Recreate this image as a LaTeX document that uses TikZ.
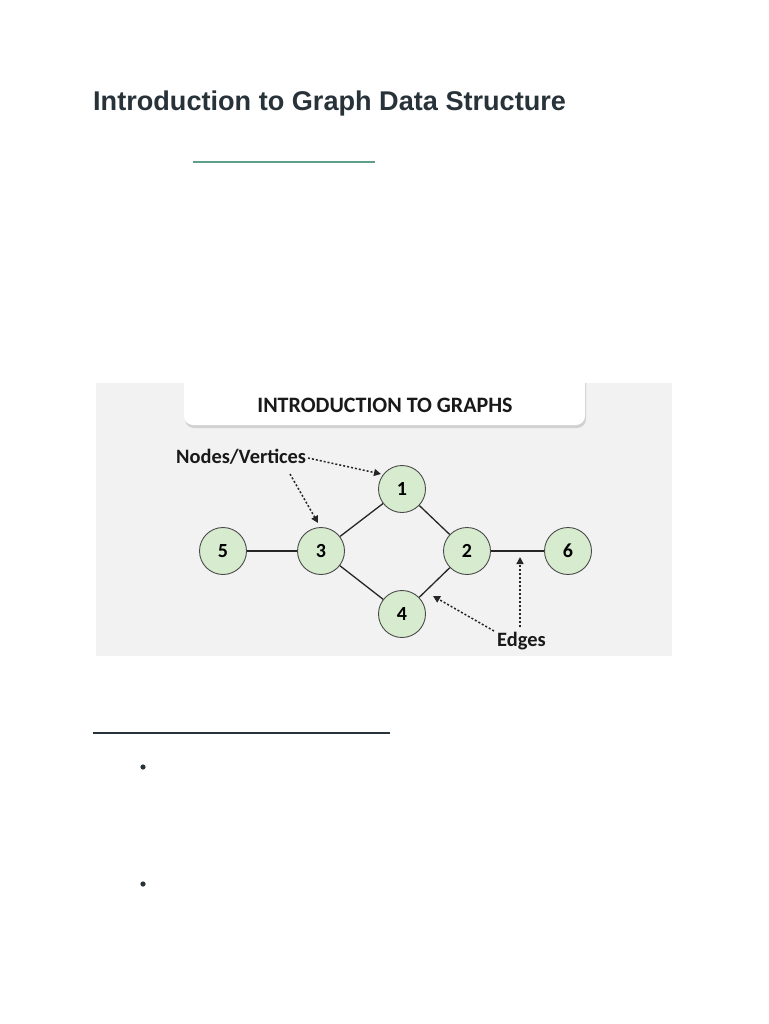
\documentclass[tikz,border=0pt]{standalone}
\usepackage{fontspec}
\setmainfont{Liberation Sans}
\newfontfamily\calib{Carlito}
\usetikzlibrary{arrows.meta,shapes.geometric}
\definecolor{titlecol}{HTML}{273239}
\definecolor{teal}{HTML}{5E9E8B}
\definecolor{bggray}{HTML}{F2F2F2}
\definecolor{nodegreen}{HTML}{D7EBCF}
\definecolor{nodeborder}{HTML}{4A4A4A}
\tikzset{
  vert/.style={circle,draw=nodeborder,line width=0.9pt,fill=nodegreen,minimum size=47pt,inner sep=0pt,font=\calib\bfseries\fontsize{20}{22}\selectfont},
  edge/.style={line width=1.3pt,draw=black!85},
  pointer/.style={line width=1.5pt,dash pattern=on 2pt off 2pt,-{Triangle[length=7pt,width=7pt]},black!85},
  lbl/.style={font=\calib\bfseries\fontsize{20.4}{22}\selectfont,inner sep=0pt,text=black!90}
}
\begin{document}
\begin{tikzpicture}[x=1pt,y=-1pt]
\useasboundingbox (0,0) rectangle (768,1024);
\fill[white] (0,0) rectangle (768,1024);
% title
\node[anchor=base west,inner sep=0pt,text=titlecol,font=\bfseries\fontsize{27.1}{30}\selectfont] (title) at (93,111) {Introduction to Graph Data Structure};
\draw[teal,line width=1.5pt] (193,162) -- (375,162);
% diagram background
\fill[bggray] (96,383) rectangle (672,656);
% header box
\fill[black!18,rounded corners=9pt] (185,370) rectangle (586,428);
\fill[white,rounded corners=9pt] (184,370) rectangle (585,425);
\fill[white] (0,370) rectangle (768,383);
\node[font=\calib\bfseries\fontsize{22}{24}\selectfont,inner sep=0pt,text=black!90] (head) at (385,405) {INTRODUCTION TO GRAPHS};
% vertices
\node[vert] (n1) at (402,489) {1};
\node[vert] (n3) at (321,551) {3};
\node[vert] (n5) at (223,551) {5};
\node[vert] (n2) at (467,551) {2};
\node[vert] (n6) at (568,551) {6};
\node[vert] (n4) at (402,614) {4};
% edges
\draw[edge] (n5) -- (n3);
\draw[edge] (n3) -- (n1);
\draw[edge] (n1) -- (n2);
\draw[edge] (n3) -- (n4);
\draw[edge] (n4) -- (n2);
\draw[edge] (n2) -- (n6);
% labels
\node[lbl,anchor=base west] (nv) at (176,463) {Nodes/Vertices};
\node[lbl,anchor=base west] (ed) at (497,646) {Edges};
\coordinate (nvA) at (308,458);
\coordinate (nvB) at (290,474);
\coordinate (edA) at (494,631);
\coordinate (edB) at (520,627);
\coordinate (t1) at (381,474);
\coordinate (t3) at (318,523);
\coordinate (t24) at (433,596);
\coordinate (t26) at (520,557);
\draw[pointer] (nvA) -- (t1);
\draw[pointer] (nvB) -- (t3);
\draw[pointer] (edA) -- (t24);
\draw[pointer] (edB) -- (t26);
% lower section
\draw[titlecol,line width=2pt] (93,733) -- (390,733);
\fill[titlecol] (143,767) circle (2.6pt);
\fill[titlecol] (143,884) circle (2.6pt);
\end{tikzpicture}
\end{document}
